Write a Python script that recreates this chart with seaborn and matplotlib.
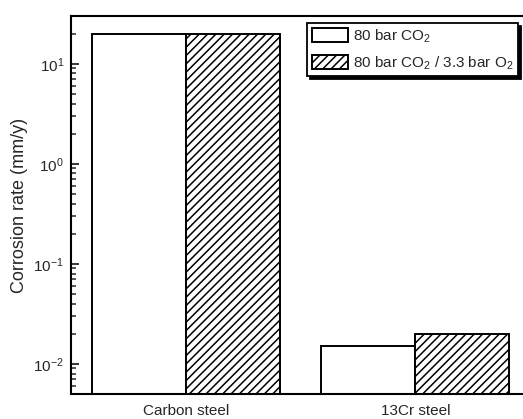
import numpy as np
import pandas as pd
import matplotlib
matplotlib.use("Agg")
import matplotlib.pyplot as plt
import seaborn as sns

# ---- data ----
steels = ["Carbon steel", "13Cr steel"]
conditions = ["80 bar CO$_2$", "80 bar CO$_2$ / 3.3 bar O$_2$"]
rate_co2 = [20.0, 0.015]
rate_co2_o2 = [20.0, 0.020]

df = pd.DataFrame({
    "steel": steels * 2,
    "condition": [conditions[0]] * 2 + [conditions[1]] * 2,
    "rate": rate_co2 + rate_co2_o2,
})

# ---- style ----
sns.set_style("ticks")
plt.rcParams["font.family"] = ["Liberation Sans", "DejaVu Sans"]
plt.rcParams["mathtext.fontset"] = "custom"
plt.rcParams["mathtext.rm"] = "Liberation Sans"
plt.rcParams["mathtext.it"] = "Liberation Sans:italic"
plt.rcParams["mathtext.bf"] = "Liberation Sans:bold"
plt.rcParams["axes.unicode_minus"] = False
plt.rcParams["hatch.linewidth"] = 1.1
plt.rcParams["hatch.color"] = "black"

fig = plt.figure(figsize=(5.23, 4.19), dpi=100)
ax = fig.add_axes([0.1358, 0.0597, 0.8776, 0.9021])

sns.barplot(data=df, x="steel", y="rate", hue="condition",
            palette=["white", "white"], edgecolor="black", linewidth=1.4,
            width=0.82, legend=False, ax=ax)

for bar in ax.containers[1]:
    bar.set_hatch("////")

ax.set_yscale("log")
ax.set_ylim(0.005, 30)
ax.set_xlim(-0.5, 1.5)
ax.set_xlabel("")
ax.set_ylabel("Corrosion rate (mm/y)", fontsize=13, labelpad=4)

ax.tick_params(axis="y", which="major", direction="in", length=6, width=1.3,
               labelsize=11, pad=5, left=True, right=False)
ax.tick_params(axis="y", which="minor", direction="in", length=3.5, width=1.1,
               left=True, right=False)
ax.tick_params(axis="x", which="both", length=0, labelsize=11, pad=7)

for side in ["left", "bottom", "top", "right"]:
    ax.spines[side].set_visible(True)
    ax.spines[side].set_linewidth(1.5)
    ax.spines[side].set_color("black")

leg = ax.legend(handles=[ax.containers[0], ax.containers[1]], labels=conditions,
                loc="upper right", bbox_to_anchor=(518 / 523, 1 - 23 / 419),
                bbox_transform=fig.transFigure, borderaxespad=0,
                fontsize=11, frameon=True, fancybox=False,
                shadow={"color": "black", "alpha": 1.0},
                handlelength=2.4, handleheight=1.05, handletextpad=0.3,
                labelspacing=0.6, borderpad=0.3)
leg.get_frame().set_edgecolor("black")
leg.get_frame().set_linewidth(1.3)
leg.get_frame().set_alpha(1.0)

fig.savefig("out.png", dpi=100)
